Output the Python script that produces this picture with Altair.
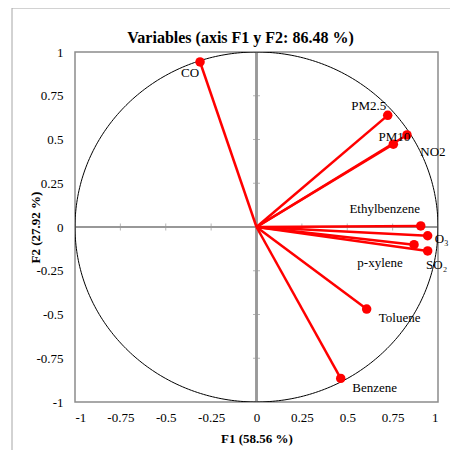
import altair as alt
import pandas as pd

variables = ["CO", "PM2.5", "PM10", "NO2", "Ethylbenzene", "O₃", "p-xylene", "SO₂", "Toluene", "Benzene"]
f1 = [-0.311, 0.723, 0.754, 0.829, 0.905, 0.943, 0.868, 0.943, 0.607, 0.464]
f2 = [0.943, 0.638, 0.473, 0.526, 0.006, -0.050, -0.101, -0.137, -0.469, -0.865]
tick_values = [-1, -0.75, -0.5, -0.25, 0, 0.25, 0.5, 0.75, 1]

# label offsets (pixels) for text placement
label_dx = {"CO": -10, "PM2.5": -19, "PM10": 1, "NO2": 26, "Ethylbenzene": -36, "O₃": 14,
            "p-xylene": -34, "SO₂": 9, "Toluene": 33, "Benzene": 34}
label_dy = {"CO": 11, "PM2.5": -9, "PM10": -7, "NO2": 17, "Ethylbenzene": -17, "O₃": 3,
            "p-xylene": 18, "SO₂": 14, "Toluene": 9, "Benzene": 10}

FONT = "Liberation Serif"
W, H = 363, 350

df = pd.DataFrame({"var": variables, "F1": f1, "F2": f2})
df["x0"] = 0.0
df["y0"] = 0.0
ticks_df = pd.DataFrame({"v": tick_values, "zero": [0.0] * len(tick_values)})

xs = alt.Scale(domain=[-1, 1], nice=False, zero=False)
ys = alt.Scale(domain=[-1, 1], nice=False, zero=False)

ax_x = alt.Axis(
    values=tick_values, title="F1 (58.56 %)", grid=False, ticks=False, domain=False,
    labelExpr="'' + datum.value",
    labelFont=FONT, labelFontSize=13, labelColor="#000", labelPadding=9,
    titleFont=FONT, titleFontSize=13, titleFontWeight="bold", titleColor="#000",
    titleY=36, titleBaseline="middle")
ax_y = alt.Axis(
    values=tick_values, title="F2 (27.92 %)", grid=False, ticks=False, domain=False,
    labelExpr="'' + datum.value",
    labelFont=FONT, labelFontSize=13, labelColor="#000", labelPadding=12,
    titleFont=FONT, titleFontSize=13, titleFontWeight="bold", titleColor="#000",
    titleX=-40, titleY=175, titleAngle=-90, titleAlign="center", titleBaseline="middle")


def X(f):
    return alt.X(f, scale=xs, axis=ax_x)


def Y(f):
    return alt.Y(f, scale=ys, axis=ax_y)


one = pd.DataFrame({"a": [0]})

# outer decorative frame
frame = alt.Chart(one).mark_rect(
    fill=None, stroke="#a6a6a6", strokeWidth=1, clip=False
).encode(x=alt.value(-63), x2=alt.value(395), y=alt.value(-44), y2=alt.value(420))

title = alt.Chart(one).mark_text(
    text="Variables (axis F1 y F2: 86.48 %)", font=FONT, fontSize=16, fontWeight="bold",
    color="#000", align="center", baseline="middle"
).encode(x=alt.value(W / 2 - 16), y=alt.value(-14))

# unit circle
circle = alt.Chart(alt.sequence(0, 361, 1, as_="t")).transform_calculate(
    cx="cos(datum.t*PI/180)", cy="sin(datum.t*PI/180)"
).mark_line(color="black", strokeWidth=1, clip=True).encode(
    x=X("cx:Q"), y=Y("cy:Q"), order="t:Q")

zero_v = alt.Chart(ticks_df).mark_rule(color="#999", strokeWidth=1.5).encode(
    x=X("zero:Q"), y=alt.value(0), y2=alt.value(H))
zero_h = alt.Chart(ticks_df).mark_rule(color="#999", strokeWidth=1.5).encode(
    y=Y("zero:Q"), x=alt.value(0), x2=alt.value(W))
ticks_on_v = alt.Chart(ticks_df).mark_tick(color="#999", orient="horizontal", size=7, thickness=1).encode(
    x=X("zero:Q"), y=Y("v:Q"))
ticks_on_h = alt.Chart(ticks_df).mark_tick(color="#999", orient="vertical", size=7, thickness=1).encode(
    x=X("v:Q"), y=Y("zero:Q"))

vectors = alt.Chart(df).mark_rule(color="#ff0000", strokeWidth=2.5).encode(
    x=X("F1:Q"), y=Y("F2:Q"), x2="x0:Q", y2="y0:Q")
points = alt.Chart(df).mark_circle(color="#ff0000", opacity=1, size=90).encode(
    x=X("F1:Q"), y=Y("F2:Q"))

labels = []
for v in variables:
    labels.append(
        alt.Chart(df[df["var"] == v]).mark_text(
            font=FONT, fontSize=13, color="#000", align="center", baseline="middle",
            dx=label_dx[v], dy=label_dy[v]
        ).encode(x=X("F1:Q"), y=Y("F2:Q"), text="var:N")
    )

chart = alt.layer(frame, title, zero_v, zero_h, ticks_on_v, ticks_on_h, circle, vectors, points, *labels).properties(
    width=W, height=H,
    autosize=alt.AutoSizeParams(type="none"),
    padding={"left": 67, "top": 44, "right": 12, "bottom": 48},
).configure_view(stroke="#8c8c8c", strokeWidth=1.5)

chart.save("out.html", embed_options={"renderer": "svg", "actions": False})
